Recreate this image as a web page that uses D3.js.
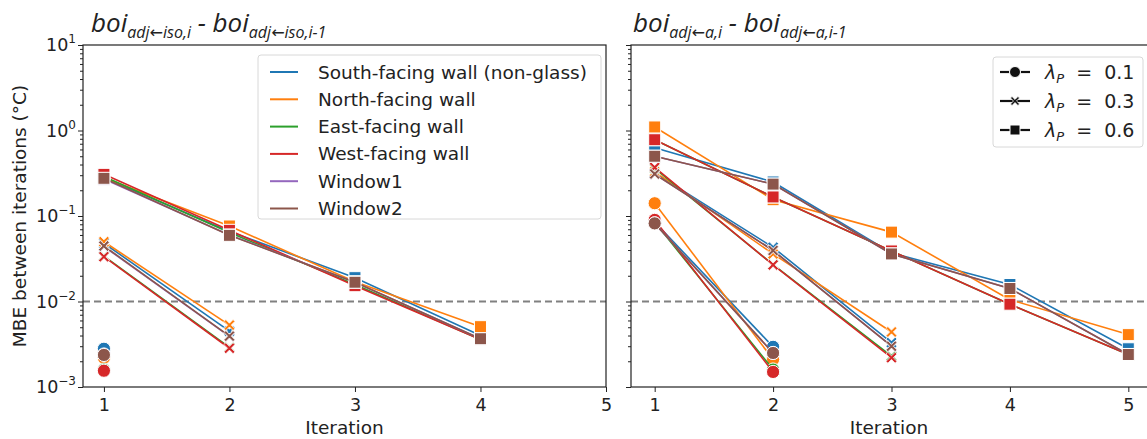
<!DOCTYPE html>
<html>
<head>
<meta charset="utf-8">
<script src="https://cdn.jsdelivr.net/npm/d3@7"></script>
<style>
  body { margin: 0; background: #fff; }
  text { font-family: "DejaVu Sans", sans-serif; fill: #222; }
</style>
</head>
<body>
<svg id="chart" width="1147" height="439"></svg>
<script>
// series / colours
var seriesNames = ["South-facing wall (non-glass)", "North-facing wall", "East-facing wall", "West-facing wall", "Window1", "Window2"];
var seriesColors = ["#1f77b4", "#ff7f0e", "#2ca02c", "#d62728", "#9467bd", "#8c564b"];
var lambdas = ["0.1", "0.3", "0.6"];
var markerTypes = ["circle", "cross", "square"];
var xTicks = [1, 2, 3, 4, 5];
var yTicks = [1e-3, 1e-2, 1e-1, 1e0, 1e1];
var yTickExp = ["\u22123", "\u22122", "\u22121", "0", "1"];

// left panel: boi adj<-iso   (one row per series, values by iteration)
var isoL01 = [[0.0028], [0.0022], [0.0016], [0.00155], [0.0024], [0.00237]];
var isoL03 = [[0.048, 0.0045], [0.050, 0.0053], [0.034, 0.0029], [0.0334, 0.00284], [0.044, 0.0039], [0.0446, 0.00394]];
var isoL06 = [
  [0.28, 0.066, 0.019, 0.0040],
  [0.28, 0.0764, 0.017, 0.00508],
  [0.29, 0.064, 0.0158, 0.0036],
  [0.307, 0.068, 0.0153, 0.0036],
  [0.27, 0.060, 0.0168, 0.00367],
  [0.276, 0.0594, 0.0168, 0.00367]
];

// right panel: boi adj<-a
var aL01 = [[0.085, 0.00295], [0.141, 0.0021], [0.085, 0.0016], [0.09, 0.0015], [0.082, 0.0025], [0.082, 0.0025]];
var aL03 = [[0.32, 0.043, 0.0033], [0.33, 0.036, 0.0044], [0.36, 0.027, 0.0023], [0.37, 0.0268, 0.0022], [0.31, 0.0395, 0.0030], [0.31, 0.0395, 0.0030]];
var aL06 = [
  [0.63, 0.25, 0.037, 0.0158, 0.0028],
  [1.10, 0.155, 0.0648, 0.0105, 0.0041],
  [0.78, 0.167, 0.039, 0.0093, 0.0024],
  [0.78, 0.167, 0.039, 0.0093, 0.0024],
  [0.50, 0.236, 0.036, 0.0142, 0.0024],
  [0.50, 0.236, 0.036, 0.0142, 0.0024]
];

var threshold = 0.01;

var svg = d3.select("#chart");
var y = d3.scaleLog().domain([1e-3, 1e1]).range([387, 45]);

function drawMarker(g, type, cx, cy, color, s) {
  if (type == "circle") {
    g.append("circle").attr("cx", cx).attr("cy", cy).attr("r", s * 0.55)
      .attr("fill", color).attr("stroke", "#fff").attr("stroke-width", 1);
  } else if (type == "square") {
    g.append("rect").attr("x", cx - s / 2).attr("y", cy - s / 2).attr("width", s).attr("height", s)
      .attr("fill", color).attr("stroke", "#fff").attr("stroke-width", 1);
  } else {
    // filled "X"
    var a = s / 2, w = s * 0.17;
    var pts = [[-a, -a + w], [-a + w, -a], [0, -w], [a - w, -a], [a, -a + w], [w, 0],
               [a, a - w], [a - w, a], [0, w], [-a + w, a], [-a, a - w], [-w, 0]];
    g.append("path")
      .attr("d", "M" + pts.map(function(p) { return (cx + p[0]) + "," + (cy + p[1]); }).join("L") + "Z")
      .attr("fill", color).attr("stroke", "#fff").attr("stroke-width", 0.8);
  }
}

function subscript(t, txt) {
  // subscript with a plain (wider) arrow like the original title font
  var parts = txt.split("\u2190");
  t.append("tspan").attr("font-size", 16).attr("dy", 6).text(parts[0]);
  t.append("tspan").attr("font-size", 16).attr("font-style", "normal")
    .style("font-family", "'DejaVu Sans', sans-serif").text("\u2190");
  t.append("tspan").attr("font-size", 16).text(parts[1]);
}

function panel(x0, x1, xDomain, groups, sub1, sub2, showY, titleX) {
  var x = d3.scaleLinear().domain(xDomain).range([x0, x1]);
  var g = svg.append("g");
  var clipId = "clip" + x0;
  svg.append("clipPath").attr("id", clipId).append("rect")
    .attr("x", x0).attr("y", 45).attr("width", x1 - x0).attr("height", 342);
  var plot = g.append("g").attr("clip-path", "url(#" + clipId + ")");

  // threshold line
  plot.append("line").attr("x1", x0).attr("x2", x1).attr("y1", y(threshold)).attr("y2", y(threshold))
    .attr("stroke", "#808080").attr("stroke-width", 2).attr("stroke-dasharray", "7,4");

  var line = d3.line().x(function(d, i) { return x(i + 1); }).y(function(d) { return y(d); });
  for (var s = 0; s < seriesNames.length; s++) {
    for (var k = 0; k < groups.length; k++) {
      var vals = groups[k][s];
      plot.append("path").datum(vals).attr("d", line).attr("fill", "none")
        .attr("stroke", seriesColors[s]).attr("stroke-width", 1.6);
      for (var i = 0; i < vals.length; i++) {
        drawMarker(plot, markerTypes[k], x(i + 1), y(vals[i]), seriesColors[s], markerTypes[k] == "cross" ? 11 : 12);
      }
    }
  }

  // axes
  var xAxis = g.append("g").attr("transform", "translate(0,387)")
    .call(d3.axisBottom(x).tickValues(xTicks).tickFormat(d3.format("d")).tickSize(5).tickSizeOuter(0));
  xAxis.select(".domain").remove();
  xAxis.selectAll("text").attr("font-size", 17.5).attr("dy", "0.9em").style("font-family", "DejaVu Sans");
  xAxis.selectAll("line").attr("stroke", "#222");

  var yAxis = g.append("g").attr("transform", "translate(" + x0 + ",0)")
    .call(d3.axisLeft(y).tickValues(yTicks).tickFormat("").tickSize(5).tickSizeOuter(0));
  yAxis.select(".domain").remove();
  yAxis.selectAll("line").attr("stroke", "#222");
  var minor = [];
  for (var e = -3; e < 1; e++) for (var m = 2; m < 10; m++) minor.push(m * Math.pow(10, e));
  g.append("g").attr("transform", "translate(" + x0 + ",0)")
    .call(d3.axisLeft(y).tickValues(minor).tickFormat("").tickSize(3).tickSizeOuter(0))
    .call(function(a) { a.select(".domain").remove(); a.selectAll("line").attr("stroke", "#222"); });

  if (showY) {
    yTicks.forEach(function(v, i) {
      var t = g.append("text").attr("x", x0 - 7).attr("y", y(v) + 6).attr("text-anchor", "end").attr("font-size", 17.5);
      t.append("tspan").text("10");
      t.append("tspan").attr("font-size", 12).attr("dy", -8).text(yTickExp[i]);
    });
  }

  // frame
  g.append("rect").attr("x", x0).attr("y", 45).attr("width", x1 - x0).attr("height", 342)
    .attr("fill", "none").attr("stroke", "#222").attr("stroke-width", 1.2);

  g.append("text").attr("x", (x0 + Math.min(x1, 1147)) / 2).attr("y", 434).attr("text-anchor", "middle")
    .attr("font-size", 18.5).text("Iteration");

  var tt = g.append("text").attr("x", titleX).attr("y", 32).attr("font-size", 26).attr("font-style", "italic")
    .style("font-family", "'Open Sans', sans-serif");
  tt.append("tspan").text("boi");
  subscript(tt, sub1);
  tt.append("tspan").attr("dy", -6).text(" - boi");
  subscript(tt, sub2);
  return x;
}

panel(83, 606, [0.8333, 5], [isoL01, isoL03, isoL06], "adj\u2190iso,i", "adj\u2190iso,i-1", true, 91);
panel(631, 1152, [0.8, 5.2], [aL01, aL03, aL06], "adj\u2190a,i", "adj\u2190a,i-1", false, 633);

// y label
svg.append("text").attr("transform", "translate(26,216) rotate(-90)").attr("text-anchor", "middle")
  .attr("font-size", 18.5).text("MBE between iterations (\u00b0C)");

// legend: series
var lg = svg.append("g");
lg.append("rect").attr("x", 258).attr("y", 55).attr("width", 343).attr("height", 164).attr("rx", 3)
  .attr("fill", "#fff").attr("fill-opacity", 0.85).attr("stroke", "#d8d8d8");
seriesNames.forEach(function(n, i) {
  var ly = 72 + i * 27.3;
  lg.append("line").attr("x1", 270).attr("x2", 298).attr("y1", ly).attr("y2", ly)
    .attr("stroke", seriesColors[i]).attr("stroke-width", 2);
  lg.append("text").attr("x", 318).attr("y", ly + 6.5).attr("font-size", 18.5).text(n);
});

// legend: lambda markers
var lg2 = svg.append("g");
lg2.append("rect").attr("x", 993).attr("y", 57).attr("width", 150).attr("height", 90).attr("rx", 3)
  .attr("fill", "#fff").attr("stroke", "#d8d8d8");
lambdas.forEach(function(l, i) {
  var ly = 72 + i * 29;
  lg2.append("line").attr("x1", 1000).attr("x2", 1030).attr("y1", ly).attr("y2", ly)
    .attr("stroke", "#111").attr("stroke-width", 2.2);
  drawMarker(lg2, markerTypes[i], 1015, ly, "#111", markerTypes[i] == "cross" ? 9 : 10);
  var t = lg2.append("text").attr("x", 1045).attr("y", ly + 6.5).attr("font-size", 19);
  t.append("tspan").attr("font-style", "italic").text("\u03bb");
  t.append("tspan").attr("font-style", "italic").attr("font-size", 13).attr("dy", 4).text("P");
  t.append("tspan").attr("dy", -4).attr("xml:space", "preserve").text("  =  " + l);
});
</script>
</body>
</html>
